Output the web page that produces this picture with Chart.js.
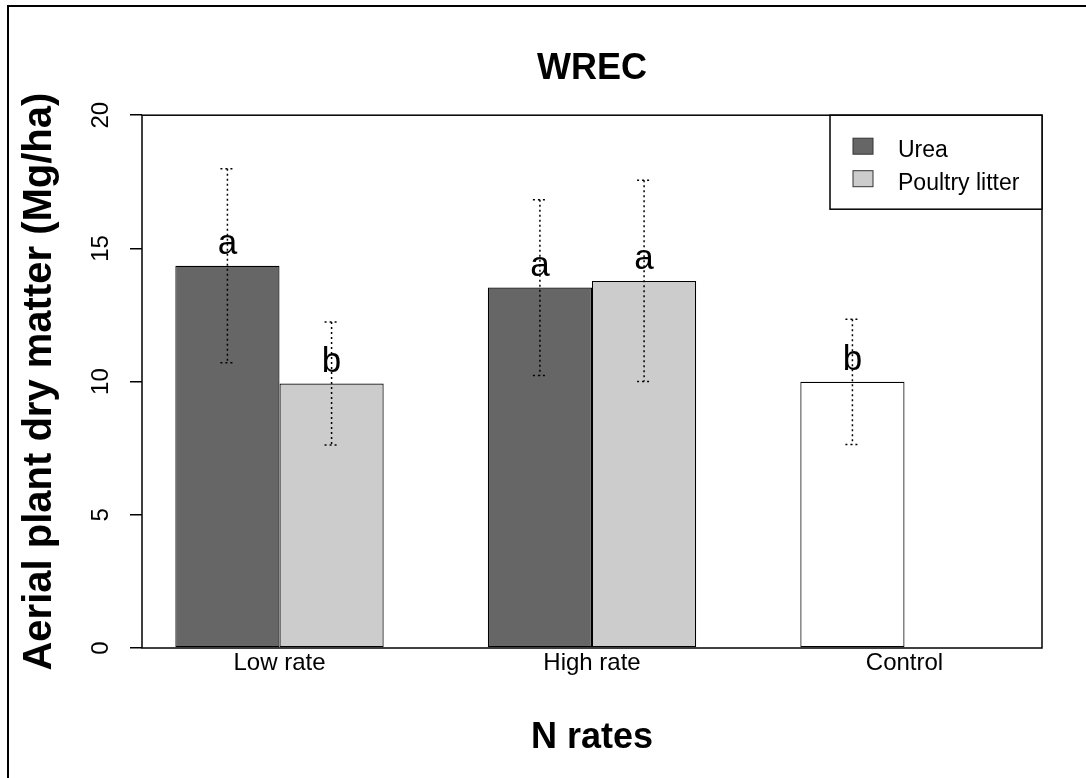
<!DOCTYPE html>
<html>
<head>
<meta charset="utf-8">
<title>WREC</title>
<script src="https://cdn.jsdelivr.net/npm/chart.js@4.4.0/dist/chart.umd.min.js"></script>
<style>
  html, body { margin: 0; padding: 0; background: #fff; overflow: hidden; }
  #wrap { position: relative; width: 1086px; height: 778px; }
  #frame { position: absolute; left: 7px; top: 5px; width: 1200px; height: 1000px; border: 2px solid #000; pointer-events: none; }
</style>
</head>
<body>
<div id="wrap">
  <canvas id="chart" width="1086" height="778"></canvas>
  <div id="frame"></div>
</div>
<script>
// data
const categories = ["Low rate", "High rate", "Control"];
const ureaValues = [14.35, 13.53, 9.99];
const poultryValues = [9.93, 13.78, null];
const ureaErrors = [3.64, 3.30, 2.35];
const poultryErrors = [2.31, 3.78, null];
const ureaLetters = ["a", "a", "b"];
const poultryLetters = ["b", "a", null];
const yTicks = [0, 5, 10, 15, 20];

const FONT = "'Liberation Sans', Arial, Helvetica, sans-serif";

// R barplot layout: one bar-width gap before each group of two bars
const groupPos = i => 2 + 3 * i;
const xPad = 0.04 * 8;

// Error bars (dotted) and significance letters
const errorBars = {
  id: "errorBars",
  afterDatasetsDraw(chart) {
    const ctx = chart.ctx;
    const y = chart.scales.y;
    const errs = [ureaErrors, poultryErrors];
    const letters = [ureaLetters, poultryLetters];
    chart.data.datasets.forEach((ds, d) => {
      const meta = chart.getDatasetMeta(d);
      meta.data.forEach((bar, i) => {
        const v = ds.data[i].y;
        if (v == null) return;
        const e = errs[d][i];
        const yt = y.getPixelForValue(v + e);
        const yb = y.getPixelForValue(v - e);
        ctx.save();
        ctx.strokeStyle = "#000";
        ctx.lineWidth = 1.5;
        ctx.setLineDash([2, 3]);
        ctx.beginPath();
        ctx.moveTo(bar.x, yt); ctx.lineTo(bar.x, yb);
        ctx.moveTo(bar.x - 7, yt); ctx.lineTo(bar.x + 7, yt);
        ctx.moveTo(bar.x - 7, yb); ctx.lineTo(bar.x + 7, yb);
        ctx.stroke();
        ctx.setLineDash([]);
        ctx.fillStyle = "#000";
        ctx.font = "35px " + FONT;
        ctx.textAlign = "center";
        ctx.textBaseline = "alphabetic";
        ctx.fillText(letters[d][i], bar.x, y.getPixelForValue(v) - 11.5);
        ctx.restore();
      });
    });
  }
};

// plot box + legend in the top right corner
const boxLegend = {
  id: "boxLegend",
  afterDraw(chart) {
    const ctx = chart.ctx;
    const a = chart.chartArea;
    ctx.save();
    ctx.strokeStyle = "#000";
    ctx.lineWidth = 1.5;
    ctx.strokeRect(a.left, a.top, a.right - a.left, a.bottom - a.top);

    const w = 212, h = 94;
    const x0 = a.right - w, y0 = a.top;
    ctx.fillStyle = "#fff";
    ctx.fillRect(x0, y0, w, h);
    ctx.strokeRect(x0, y0, w, h);
    ctx.font = "23px " + FONT;
    ctx.textAlign = "left";
    ctx.textBaseline = "alphabetic";
    chart.data.datasets.forEach((ds, i) => {
      const rowY = y0 + 31 + i * 32.5;
      const fill = Array.isArray(ds.backgroundColor) ? ds.backgroundColor[0] : ds.backgroundColor;
      ctx.fillStyle = fill;
      ctx.fillRect(x0 + 23, rowY - 8, 20, 16);
      ctx.strokeStyle = "#333";
      ctx.lineWidth = 1;
      ctx.strokeRect(x0 + 23, rowY - 8, 20, 16);
      ctx.fillStyle = "#000";
      ctx.fillText(ds.label, x0 + 68, rowY + 11);
    });
    ctx.restore();
  }
};

const ctx = document.getElementById("chart").getContext("2d");
new Chart(ctx, {
  type: "bar",
  data: {
    datasets: [{
      label: "Urea",
      data: ureaValues.map((v, i) => ({ x: groupPos(i), y: v })),
      backgroundColor: ["#666666", "#666666", "#ffffff"],
      borderColor: "#000",
      borderWidth: 1.2,
      borderSkipped: false
    }, {
      label: "Poultry litter",
      data: poultryValues.map((v, i) => ({ x: groupPos(i), y: v })),
      backgroundColor: "#cccccc",
      borderColor: "#000",
      borderWidth: 1.2,
      borderSkipped: false
    }]
  },
  options: {
    responsive: false,
    animation: false,
    categoryPercentage: 2 / 3,
    barPercentage: 1,
    layout: { padding: { left: 0, right: 44, top: 0, bottom: 0 } },
    plugins: {
      legend: { display: false },
      tooltip: { enabled: false },
      title: {
        display: true,
        fullSize: false,
        text: "WREC",
        color: "#000",
        font: { size: 36, weight: "bold", family: FONT },
        padding: { top: 47, bottom: 25 }
      }
    },
    scales: {
      x: {
        type: "linear",
        offset: false,
        min: 1 - xPad,
        max: groupPos(categories.length - 1) + 1 + xPad,
        afterFit(s) { s.height = 130; },
        afterBuildTicks(s) { s.ticks = categories.map((c, i) => ({ value: groupPos(i) })); },
        ticks: {
          callback: v => categories[Math.round((v - 2) / 3)],
          autoSkip: false,
          maxRotation: 0,
          padding: 1,
          color: "#000",
          font: { size: 24, family: FONT }
        },
        grid: { display: false, drawTicks: false, offset: false },
        border: { display: false },
        title: {
          display: true,
          text: "N rates",
          color: "#000",
          font: { size: 36, weight: "bold", family: FONT },
          padding: { top: 0, bottom: 18 }
        }
      },
      y: {
        min: 0,
        max: 20,
        afterFit(s) { s.width = 142; },
        afterBuildTicks(s) { s.ticks = yTicks.map(v => ({ value: v })); },
        ticks: {
          minRotation: 90,
          maxRotation: 90,
          crossAlign: "center",
          padding: 15,
          color: "#000",
          font: { size: 24, family: FONT }
        },
        grid: { drawOnChartArea: false, drawTicks: true, tickLength: 12, color: "#000", lineWidth: 1.5 },
        border: { display: false },
        title: {
          display: true,
          text: "Aerial plant dry matter (Mg/ha)",
          color: "#000",
          font: { size: 40, weight: "bold", family: FONT },
          padding: { top: 16, bottom: 0 }
        }
      }
    }
  },
  plugins: [errorBars, boxLegend]
});
</script>
</body>
</html>
